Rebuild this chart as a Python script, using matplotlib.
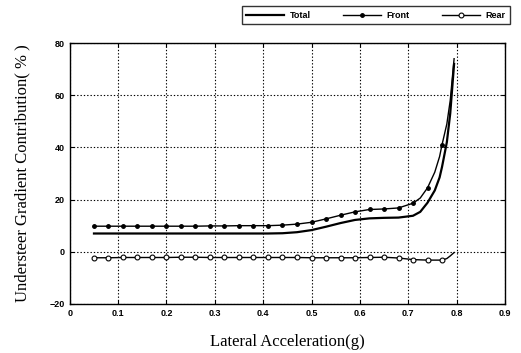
import matplotlib
matplotlib.use("Agg")
import matplotlib.pyplot as plt

# lateral acceleration (g) and contribution (%)
x_pts = [0.05, 0.08, 0.11, 0.14, 0.17, 0.20, 0.23, 0.26, 0.29, 0.32, 0.35, 0.38, 0.41,
         0.44, 0.47, 0.50, 0.53, 0.56, 0.59, 0.62, 0.65, 0.68, 0.71, 0.725, 0.74, 0.755,
         0.765, 0.77, 0.78, 0.787, 0.795]
total = [7.0, 7.0, 7.0, 7.0, 7.0, 7.0, 7.0, 7.0, 7.0, 7.0, 7.0, 7.0, 7.0,
         7.1, 7.5, 8.3, 9.6, 11.0, 12.2, 12.8, 13.0, 13.1, 13.8, 15.3, 18.8, 23.5,
         28.5, 32.5, 42.0, 53.0, 72.0]
front = [9.8, 9.8, 9.8, 9.8, 9.8, 9.8, 9.8, 9.8, 9.9, 9.9, 10.0, 10.0, 10.0,
         10.2, 10.6, 11.3, 12.6, 14.0, 15.3, 16.2, 16.4, 16.8, 18.6, 20.6, 24.5, 30.5,
         36.5, 41.0, 49.0, 58.0, 74.0]
rear = [-2.3, -2.3, -2.2, -2.2, -2.2, -2.2, -2.1, -2.1, -2.2, -2.2, -2.2, -2.2, -2.2,
        -2.2, -2.2, -2.3, -2.3, -2.3, -2.3, -2.2, -2.1, -2.4, -3.0, -3.1, -3.2, -3.2,
        -3.2, -3.2, -2.6, -1.6, -0.3]
# points that carry a marker (regular 0.03 steps)
marked = [0, 1, 2, 3, 4, 5, 6, 7, 8, 9, 10, 11, 12, 13, 14, 15, 16, 17, 18, 19, 20,
          21, 22, 24, 27]

xticks = [0, 0.1, 0.2, 0.3, 0.4, 0.5, 0.6, 0.7, 0.8, 0.9]
xlabels = ["0", "0.1", "0.2", "0.3", "0.4", "0.5", "0.6", "0.7", "0.8", "0.9"]
yticks = [-20, 0, 20, 40, 60, 80]

plt.rcParams["font.family"] = ["Liberation Sans", "DejaVu Sans"]

fig = plt.figure(figsize=(5.21, 3.53), dpi=100)
ax = fig.add_axes([0.134, 0.139, 0.835, 0.739])

ax.plot(x_pts, total, color="black", lw=1.6, label="Total")
ax.plot(x_pts, front, color="black", lw=1.0, marker="o", ms=2.5,
        markevery=marked, label="Front")
ax.plot(x_pts, rear, color="black", lw=1.0, marker="o", ms=3.5, mfc="white",
        mec="black", mew=0.8, markevery=marked, label="Rear")

ax.set_xlim(0, 0.9)
ax.set_ylim(-20, 80)
ax.set_xticks(xticks)
ax.set_xticklabels(xlabels)
ax.set_yticks(yticks)
ax.tick_params(direction="in", length=3, labelsize=6.5, right=True, top=True, width=0.8)
for lab in ax.get_xticklabels() + ax.get_yticklabels():
    lab.set_fontweight("bold")
ax.grid(True, color="black", linestyle=(0, (1.2, 1.8)), lw=0.8)
for s in ax.spines.values():
    s.set_linewidth(1.0)

ax.set_xlabel("Lateral Acceleration(g)", family="Liberation Serif", fontsize=12, labelpad=12)
ax.set_ylabel("Understeer Gradient Contribution( % )", family="Liberation Serif",
              fontsize=12, labelpad=14)

leg = fig.legend(loc="upper left", bbox_to_anchor=(0.455, 0.995), ncol=3,
                 frameon=True, fancybox=False, edgecolor="black", fontsize=6.5,
                 handlelength=4.2, columnspacing=3.6, borderpad=0.5, handletextpad=0.6)
leg.get_frame().set_linewidth(1.0)
for t in leg.get_texts():
    t.set_fontweight("bold")

fig.savefig("out.png", dpi=100)
